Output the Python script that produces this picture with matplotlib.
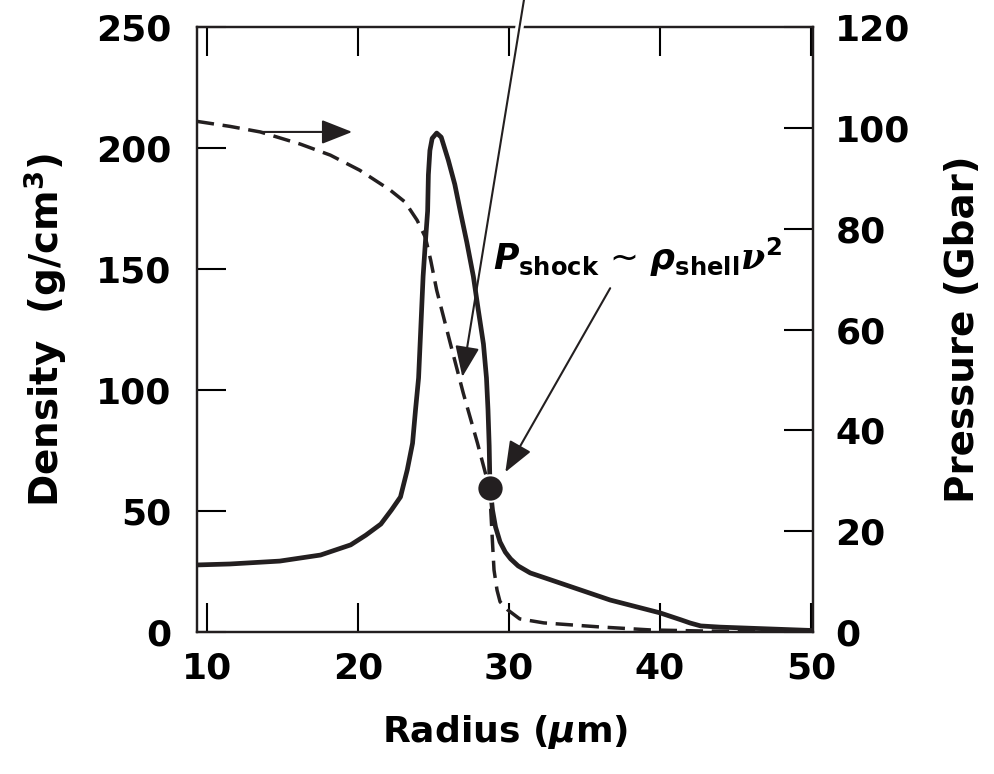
import numpy as np
import matplotlib
matplotlib.use("Agg")
from matplotlib import pyplot as plt

plt.rcParams["font.family"] = "DejaVu Sans"
plt.rcParams["font.weight"] = "bold"
plt.rcParams["mathtext.fontset"] = "custom"
plt.rcParams["mathtext.rm"] = "DejaVu Sans:bold"
plt.rcParams["mathtext.bf"] = "DejaVu Sans:bold"
plt.rcParams["mathtext.it"] = "DejaVu Sans:italic:bold"
plt.rcParams["mathtext.tt"] = "DejaVu Serif:italic"

# density profile (solid, left axis)
radius_rho = [9.3, 11.5, 14.8, 17.5, 19.5, 20.5, 21.5, 22.2, 22.8, 23.25, 23.6, 23.8,
              24.0, 24.15, 24.3, 24.45, 24.6, 24.65, 24.75, 24.9, 25.2, 25.5, 25.97,
              26.4, 26.76, 27.2, 27.63, 27.96, 28.3, 28.5, 28.6, 28.68, 28.72, 28.75,
              28.9, 29.1, 29.4, 29.75, 30.1, 30.6, 31.4, 32.4, 36.7, 40.0, 41.4, 42.0,
              42.7, 44.0, 50.15]
density = [27.7, 28.1, 29.3, 31.8, 36.0, 40.0, 44.6, 50.4, 55.8, 67.0, 78.0, 92.0,
           105.0, 126.0, 147.0, 161.0, 174.0, 189.0, 199.0, 204.0, 206.2, 204.5, 195.0,
           185.0, 174.0, 161.0, 147.0, 133.0, 119.0, 105.0, 92.0, 77.0, 64.0, 59.5,
           50.4, 43.4, 37.2, 33.0, 30.2, 27.3, 24.4, 22.3, 13.2, 7.9, 5.0, 3.7,
           2.5, 2.0, 0.6]

# pressure profile (dashed, right axis)
radius_p = [9.3, 11.5, 13.5, 16.15, 18.15, 20.1, 22.1, 23.1, 23.9, 24.45, 24.8, 25.2,
            26.1, 26.96, 27.9, 28.5, 28.75, 28.9, 29.0, 29.2, 29.4, 29.9, 30.7, 32.3,
            36.0, 39.4, 42.7, 50.15]
pressure = [101.3, 100.3, 99.2, 96.8, 94.6, 91.6, 87.7, 85.3, 81.7, 78.3, 73.8, 67.8,
            57.3, 47.4, 37.5, 30.7, 26.2, 17.7, 12.3, 8.3, 6.0, 4.4, 2.6, 1.8,
            1.0, 0.4, 0.2, 0.0]

# shock point (in pressure units)
shock_r = [28.75]
shock_p = [28.6]

x_ticks = [10, 20, 30, 40, 50]
rho_ticks = [0, 50, 100, 150, 200, 250]
p_ticks = [0, 20, 40, 60, 80, 100, 120]

fig = plt.figure(figsize=(9.94, 7.74), dpi=100)
fig.subplots_adjust(left=0.198, right=0.818, bottom=0.1835, top=0.965)
ax = fig.add_subplot(111)
ax2 = ax.twinx()

ax.plot(radius_rho, density, color="#231f20", lw=3.4, solid_capstyle="round",
        solid_joinstyle="round")
ax2.plot(radius_p, pressure, color="#231f20", lw=2.5, linestyle=(0, (5, 2.5)))
ax2.plot(shock_r, shock_p, "o", color="#231f20", ms=19, mec="white", mew=1.5, zorder=6)

ax.set_xlim(9.3, 50.15)
ax.set_ylim(0, 250)
ax2.set_ylim(0, 120)
ax.set_xticks(x_ticks)
ax.set_yticks(rho_ticks)
ax2.set_yticks(p_ticks)

ax.tick_params(axis="x", direction="in", length=21, width=1.5, top=True,
               labelsize=26, pad=14)
ax.tick_params(axis="y", direction="in", length=21, width=1.5, labelsize=26, pad=18)
ax2.tick_params(axis="y", direction="in", length=21, width=1.5, labelsize=26, pad=16)
for a in (ax, ax2):
    for s in a.spines.values():
        s.set_linewidth(1.6)
        s.set_color("#231f20")
    for lab in a.get_xticklabels() + a.get_yticklabels():
        lab.set_fontweight("bold")

ax.set_xlabel(r"Radius ($\mu$m)", fontsize=26, fontweight="bold", labelpad=20)
ax.set_ylabel(r"Density  (g/cm$^3$)", fontsize=28, fontweight="bold", labelpad=20)
ax2.set_ylabel("Pressure (Gbar)", fontsize=28, fontweight="bold", labelpad=24)

head = "-|>,head_length=19,head_width=7.5"

# arrow pointing to the right axis
ax2.annotate("", xy=(19.6, 99.2), xytext=(13.4, 99.2),
             arrowprops=dict(arrowstyle=head, mutation_scale=1, lw=1.5,
                             color="#231f20", shrinkA=0, shrinkB=0))

# shock pressure label and arrow
ax2.text(28.9, 71.8, r"$P_{\rm shock}$ ~ $\rho_{\rm shell}\mathtt{\nu}^{2}$",
         fontsize=25, fontweight="normal", ha="left", va="baseline", zorder=6)
ax2.annotate("", xy=(29.75, 31.7), xytext=(36.7, 68.2),
             arrowprops=dict(arrowstyle=head, mutation_scale=1, lw=1.5,
                             color="#231f20", shrinkA=0, shrinkB=0))

# arrow coming in from above the frame
tail = (31.4, 133.0)
tip = (26.9, 50.6)
gap_x = np.interp([114.0, 133.0], [tip[1], tail[1]], [tip[0], tail[0]])
ax2.plot(gap_x, [114.0, 133.0], color="white", lw=6, clip_on=False, zorder=4)
ax2.annotate("", xy=tip, xytext=tail, annotation_clip=False, zorder=5,
             arrowprops=dict(arrowstyle=head, mutation_scale=1, lw=1.5,
                             color="#231f20", shrinkA=0, shrinkB=0))

fig.savefig("out.png", dpi=100)
